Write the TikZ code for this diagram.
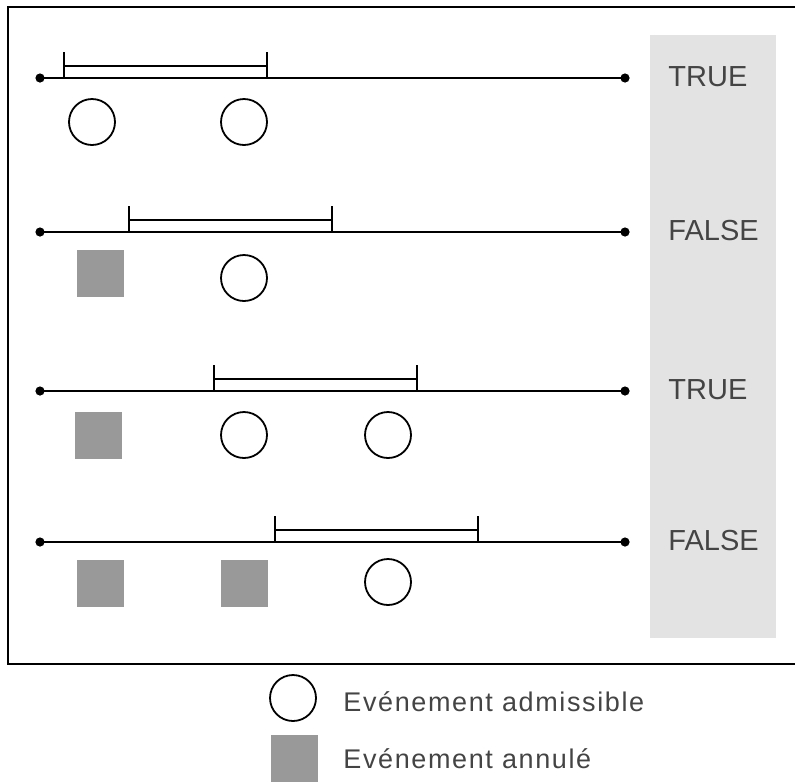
\documentclass[tikz,border=0pt]{standalone}
\usepackage{fontspec}
\setmainfont{Liberation Sans}
\definecolor{bandgray}{HTML}{E3E3E3}
\definecolor{boxgray}{HTML}{999999}
\definecolor{textgray}{HTML}{444444}

\begin{document}
\begin{tikzpicture}[x=0.5pt,y=-0.5pt,
		event/.style={draw,circle,line width=0.9pt,minimum size=23pt,inner sep=0pt},
		cancelled/.style={fill=boxgray,minimum size=23.5pt,inner sep=0pt},
		result/.style={anchor=base west,inner sep=0pt,text=textgray,
			font=\fontsize{14.5}{16}\selectfont},
		legendtext/.style={anchor=base west,inner sep=0pt,text=textgray,
			font=\fontsize{13.5}{15}\selectfont\addfontfeatures{LetterSpace=6}},
		interval/.style={line width=0.8pt}]
		
		% we fix the size of the picture
		\useasboundingbox (0,0) rectangle (795,782);
		
		% we draw the gray band behind the results
		\fill[bandgray] (650,35) rectangle (776,638);
		% we draw the frame, open on the right
		\draw[line width=1pt] (810,7) -- (8,7) -- (8,664) -- (810,664);
		
		% we draw the time lines with their dots and the intervals
		\foreach \i/\y/\a in {1/78/64,2/232/129,3/391/214,4/542/275}
		{
			\coordinate (s\i) at (40,\y);
			\coordinate (e\i) at (625,\y);
			\draw[line width=1pt] (s\i) -- (e\i);
			\fill (s\i) circle (2.3pt);
			\fill (e\i) circle (2.3pt);
			\draw[interval] (\a,\y) -- (\a,\y-26)
			(\a,\y-12) -- (\a+203,\y-12)
			(\a+203,\y) -- (\a+203,\y-26);
		}
		
		% we place the admissible events
		\foreach \n/\x/\y in {1/92/122,2/244/122,3/244/278,4/244/435,5/388/435,6/388/582}
		\node[event] (adm\n) at (\x,\y) {};
		% we place the cancelled events
		\foreach \n/\x/\y in {1/100/273,2/98/435,3/100/583,4/244/583}
		\node[cancelled] (ann\n) at (\x,\y) {};
		
		% we add the results
		\node[result] (res1) at (668,86) {TRUE};
		\node[result] (res2) at (668,240) {FALSE};
		\node[result] (res3) at (668,399) {TRUE};
		\node[result] (res4) at (668,550) {FALSE};
		
		% we draw the legend
		\node[event] (legadm) at (293,698) {};
		\node[legendtext] (txtadm) at (343,711) {Evénement admissible};
		\node[cancelled] (legann) at (294,758) {};
		\node[legendtext] (txtann) at (343,768) {Evénement annulé};
	\end{tikzpicture}
\end{document}
